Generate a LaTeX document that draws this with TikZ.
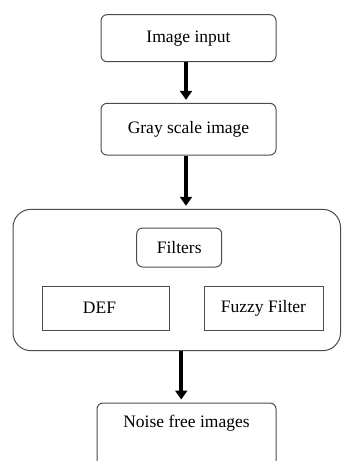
\documentclass[tikz,border=0pt]{standalone}
\usepackage{fontspec}
\setmainfont{Liberation Serif}
\usetikzlibrary{arrows.meta}
\begin{document}
\begin{tikzpicture}[x=1pt,y=-1pt,
  every node/.style={font=\fontsize{17.5}{20}\selectfont, inner sep=0pt},
  box/.style={draw=black!70, line width=1pt, rounded corners=6pt},
  sqbox/.style={draw=black!70, line width=1pt},
  flow/.style={line width=4pt, -{Triangle[width=12pt,length=9pt]}, shorten >=3pt}]
  \useasboundingbox (0,0) rectangle (341,461);
  \clip (0,0) rectangle (341,461);

  % main chain
  \node[box, minimum width=175pt, minimum height=47pt] (in) at (188.5,38.2) {Image input};
  \node[box, minimum width=175pt, minimum height=51.7pt] (gray) at (188.5,129.2) {Gray scale image};

  % filtering stage
  \node[draw=black!70, line width=1pt, rounded corners=18pt,
        minimum width=327.5pt, minimum height=141.4pt] (stage) at (176.75,280) {};
  \node[box, minimum width=85pt, minimum height=39pt] (filt) at (179.2,247.5) {Filters};
  \node[sqbox, minimum width=127pt, minimum height=44pt,
        label={[xshift=-6pt]center:DEF}] (def) at (105.5,308) {};
  \node[sqbox, minimum width=119pt, minimum height=44pt] (fuzzy) at (263.5,308) {Fuzzy Filter};

  % output
  \node[box, minimum width=179pt, minimum height=72pt,
        label={[anchor=north, yshift=-12pt]north:Noise free images}] (out) at (186.5,439) {};

  % connectors
  \draw[flow] ([xshift=-2.5pt]in.south) -- ([xshift=-2.5pt]gray.north);
  \draw[flow] ([xshift=-2.5pt]gray.south) -- ([xshift=-2.5pt]gray.south |- stage.north);
  \draw[flow] ([xshift=4.5pt]stage.south) -- ([xshift=4.5pt]stage.south |- out.north);
\end{tikzpicture}
\end{document}
